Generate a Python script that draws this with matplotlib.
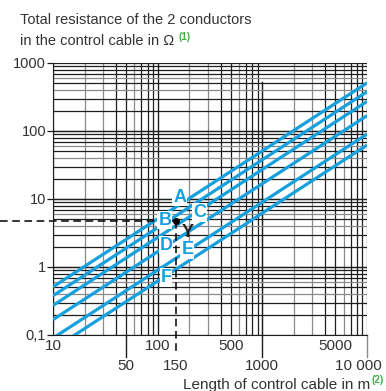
import numpy as np
import matplotlib
matplotlib.use("Agg")
import matplotlib.pyplot as plt
import matplotlib.transforms as mtransforms

plt.rcParams['font.family'] = ['Liberation Sans', 'DejaVu Sans']

# cable curves: resistance (ohm) at both ends of the length range
cable_names = ["A", "B", "C", "D", "E", "F"]
length_ends = [10, 10000]
r_at_10m = [0.51, 0.378, 0.272, 0.168, 0.090, 0.062]
r_at_10km = [510, 378, 272, 168, 90, 62]

# where the curve letters sit (length m, resistance ohm)
label_len = [163, 117, 250, 120, 192, 120]
label_r = [10.7, 4.9, 6.4, 2.1, 1.78, 0.71]

# example point Y
y_len = 150
y_res = 4.8

xtick_top = [10, 100, 500, 5000]
xtick_top_lab = ["10", "100", "500", "5000"]
xtick_low = [50, 150, 1000, 10000]
xtick_low_lab = ["50", "150", "1000", "10 000"]
ytick_vals = [0.1, 1, 10, 100, 1000]
ytick_lab = ["0,1", "1", "10", "100", "1000"]

BLUE = "#16a0dd"
DARK = "#1e1e1e"
GREY = "#8a8a8a"
TXT = "#333333"
GREEN = "#3cb44a"

fig = plt.figure(figsize=(3.86, 3.91), dpi=100)
ax = fig.add_axes([53/386, 56/391, 314/386, 272/391])
ax.set_xscale("log")
ax.set_yscale("log")
ax.set_xlim(10, 10000)
ax.set_ylim(0.1, 1000)

# grid
for dec in [10, 100, 1000]:
    for m in range(1, 11):
        v = dec * m
        col = GREY if m in (2, 3, 6, 10) else DARK
        if v == 1000:
            ax.axvline(v, ymax=0.93, color=DARK, lw=0.9, zorder=1)
        elif v < 10000:
            ax.axvline(v, color=col, lw=0.9, zorder=1)
ax.axvline(10000, color=GREY, lw=1.0, zorder=1)
for dec in [0.1, 1, 10, 100]:
    for m in range(1, 11):
        v = dec * m
        col = GREY if m in (4, 6) else DARK
        ax.axhline(v, color=col, lw=0.9, zorder=1)

# curves
for r0, r1 in zip(r_at_10m, r_at_10km):
    ax.plot(length_ends, [r0, r1], color=BLUE, lw=2.3, solid_capstyle="butt", zorder=3)

for name, lx, ly in zip(cable_names, label_len, label_r):
    ax.text(lx, ly, name, color=BLUE, fontsize=13, fontweight="bold",
            ha="center", va="center", zorder=5,
            bbox=dict(boxstyle="square,pad=0.05", fc="white", ec="none"))

# example point with dashed guides
ax.plot([3.1, y_len], [y_res, y_res], color="black", lw=1.1, ls=(0, (5, 3)),
        clip_on=False, zorder=4)
ax.plot([y_len, y_len], [y_res, 0.051], color="black", lw=1.1, ls=(0, (5, 3)),
        clip_on=False, zorder=4)
ax.plot(y_len, y_res, "o", color="black", ms=4, zorder=6)
ax.text(195, 3.25, "Y", color="#222222", fontsize=13, fontweight="bold",
        ha="center", va="center", zorder=6)

# axes styling
for s in ["top", "right"]:
    ax.spines[s].set_visible(False)
ax.spines["left"].set_color(DARK)
ax.spines["bottom"].set_color(DARK)
ax.spines["left"].set_zorder(2)
ax.spines["bottom"].set_zorder(2)
ax.yaxis.set_minor_locator(matplotlib.ticker.NullLocator())
ax.xaxis.set_minor_locator(matplotlib.ticker.NullLocator())
ax.set_yticks(ytick_vals)
ax.set_yticklabels(ytick_lab)
ax.tick_params(axis="y", length=4, width=0.9, color=DARK, pad=1,
               labelsize=10.5, labelcolor=TXT)
ax.set_xticks(xtick_top + xtick_low)
ax.set_xticklabels([])
ax.tick_params(axis="x", length=0)

trans = mtransforms.blended_transform_factory(ax.transData, fig.transFigure)
for v, lab in zip(xtick_top, xtick_top_lab):
    ax.text(v, 1 - 346/391, lab, transform=trans, ha="center", va="center",
            fontsize=11, color=TXT)
for v, lab in zip(xtick_low, xtick_low_lab):
    if v == 10000:
        ax.text(358/386, 1 - 366/391, lab, transform=fig.transFigure,
                ha="center", va="center", fontsize=11, color=TXT)
    else:
        ax.text(v, 1 - 366/391, lab, transform=trans, ha="center", va="center",
                fontsize=11, color=TXT)
    if v != 150:
        ax.plot([v, v], [0, -0.08], transform=ax.get_xaxis_transform(),
                color=DARK if v != 10000 else GREY, lw=1.0, clip_on=False)

# titles
fig.text(20/386, 1 - 20/391, "Total resistance of the 2 conductors",
         fontsize=10.5, color=TXT, ha="left", va="center")
t2 = fig.text(20/386, 1 - 41/391, "in the control cable in Ω ",
              fontsize=10.5, color=TXT, ha="left", va="center")
fig.canvas.draw()
bb = t2.get_window_extent()
fig.text(bb.x1 / fig.bbox.width, 1 - 37/391, "(1)", fontsize=7, color=GREEN,
         fontweight="bold", ha="left", va="center")

fig.text(370/386, 1 - 385/391, "Length of control cable in m",
         fontsize=11, color=TXT, ha="right", va="center")
fig.text(372/386, 1 - 380/391, "(2)", fontsize=7, color=GREEN,
         fontweight="bold", ha="left", va="center")

fig.savefig("out.png", dpi=100)
